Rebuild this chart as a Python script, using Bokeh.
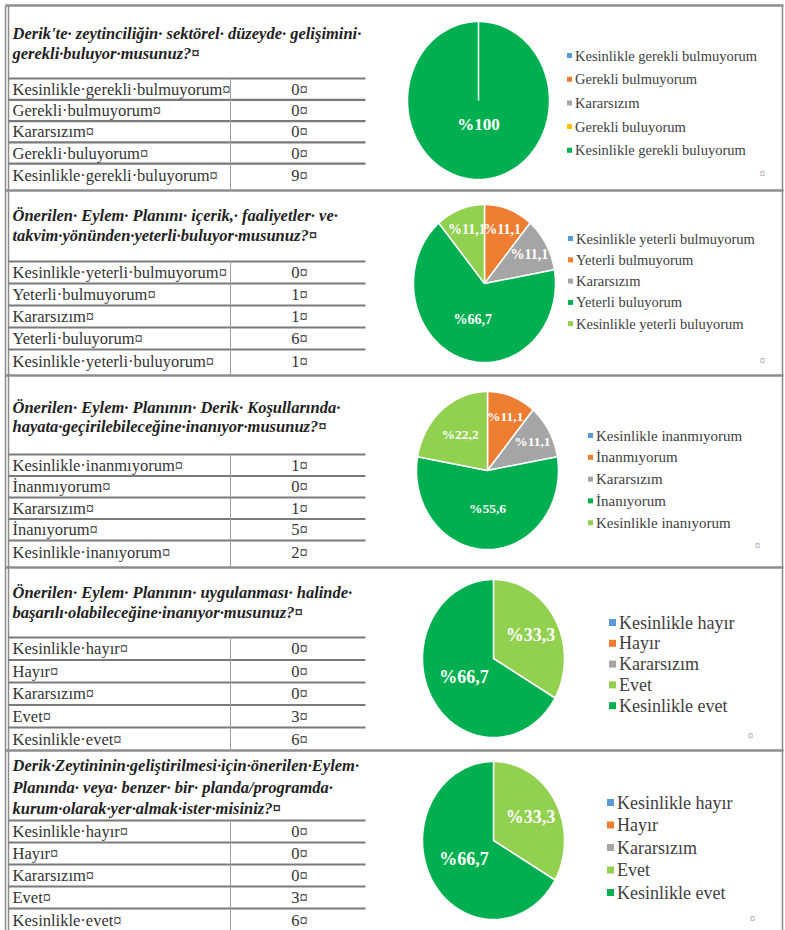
import math
from bokeh.plotting import figure
from bokeh.models import Range1d
from bokeh.core.properties import value
from bokeh.embed import file_html
from bokeh.resources import INLINE

# ---------------- colours of the Excel palette ----------------
BLUE = "#5B9BD5"
ORANGE = "#ED7D31"
GRAY = "#A5A5A5"
YELLOW = "#FFC000"
DGREEN = "#00B050"
LGREEN = "#92D050"

# ---------------- data ----------------
q1_title = ["Derik'te· zeytinciliğin· sektörel· düzeyde· gelişimini·",
            "gerekli·buluyor·musunuz?¤"]
q1_categories = ["Kesinlikle gerekli bulmuyorum", "Gerekli bulmuyorum", "Kararsızım",
                 "Gerekli buluyorum", "Kesinlikle gerekli buluyorum"]
q1_counts = [0, 0, 0, 0, 9]
q1_pie = [0, 0, 0, 0, 9]
q1_colors = [BLUE, ORANGE, GRAY, YELLOW, DGREEN]

q2_title = ["Önerilen· Eylem· Planını· içerik,· faaliyetler· ve·",
            "takvim·yönünden·yeterli·buluyor·musunuz?¤"]
q2_categories = ["Kesinlikle yeterli bulmuyorum", "Yeterli bulmuyorum", "Kararsızım",
                 "Yeterli buluyorum", "Kesinlikle yeterli buluyorum"]
q2_counts = [0, 1, 1, 6, 1]
q2_pie = [0, 1, 1, 6, 1]
q2_colors = [BLUE, ORANGE, GRAY, DGREEN, LGREEN]

q3_title = ["Önerilen· Eylem· Planının· Derik· Koşullarında·",
            "hayata·geçirilebileceğine·inanıyor·musunuz?¤"]
q3_categories = ["Kesinlikle inanmıyorum", "İnanmıyorum", "Kararsızım",
                 "İnanıyorum", "Kesinlikle inanıyorum"]
q3_counts = [1, 0, 1, 5, 2]
q3_pie = [0, 1, 1, 5, 2]          # as drawn in the chart
q3_colors = [BLUE, ORANGE, GRAY, DGREEN, LGREEN]

q4_title = ["Önerilen· Eylem· Planının· uygulanması· halinde·",
            "başarılı·olabileceğine·inanıyor·musunuz?¤"]
q4_categories = ["Kesinlikle hayır", "Hayır", "Kararsızım", "Evet", "Kesinlikle evet"]
q4_counts = [0, 0, 0, 3, 6]
q4_pie = [0, 0, 0, 3, 6]
q4_colors = [BLUE, ORANGE, GRAY, LGREEN, DGREEN]

q5_title = ["Derik·Zeytininin·geliştirilmesi·için·önerilen·Eylem·",
            "Planında· veya· benzer· bir· planda/programda·",
            "kurum·olarak·yer·almak·ister·misiniz?¤"]
q5_categories = ["Kesinlikle hayır", "Hayır", "Kararsızım", "Evet", "Kesinlikle evet"]
q5_counts = [0, 0, 0, 3, 6]
q5_pie = [0, 0, 0, 3, 6]
q5_colors = [BLUE, ORANGE, GRAY, LGREEN, DGREEN]

questions = [
    dict(title=q1_title, cats=q1_categories, counts=q1_counts, pie=q1_pie, colors=q1_colors),
    dict(title=q2_title, cats=q2_categories, counts=q2_counts, pie=q2_pie, colors=q2_colors),
    dict(title=q3_title, cats=q3_categories, counts=q3_counts, pie=q3_pie, colors=q3_colors),
    dict(title=q4_title, cats=q4_categories, counts=q4_counts, pie=q4_pie, colors=q4_colors),
    dict(title=q5_title, cats=q5_categories, counts=q5_counts, pie=q5_pie, colors=q5_colors),
]

# ---------------- layout (pixel positions from the top-left) ----------------
W, H = 785, 930
def X(rx):
    return rx
def Y(ry):
    return H - ry

layout = [
    dict(top=5, q_y=33, q_dy=20, tbl=78, rh=21.3, bottom=190, pc=(478, 100),
         lg=(569, 55, 23.7, 14.5, 5), lab=17, mark=(762, 173)),
    dict(top=190, q_y=215, q_dy=20, tbl=261, rh=22, bottom=375, pc=(484, 283),
         lg=(570, 238, 21.3, 14.5, 5), lab=14, mark=(762, 360)),
    dict(top=375, q_y=407, q_dy=19, tbl=454, rh=21.5, bottom=567, pc=(487, 470),
         lg=(590, 435, 21.8, 15, 5), lab=13.5, mark=(757, 545)),
    dict(top=567, q_y=592, q_dy=20, tbl=637, rh=22.5, bottom=750, pc=(493, 658),
         lg=(612, 622, 20.8, 18, 7), lab=18, mark=(750, 735)),
    dict(top=750, q_y=765, q_dy=21.5, tbl=820, rh=22, bottom=930, pc=(493, 840),
         lg=(610, 802, 22.5, 18, 7), lab=18, mark=(752, 918)),
]
RX, RY = 71, 79

SERIF = value("'Liberation Serif', 'Times New Roman', Times, serif")

p = figure(width=W, height=H, x_range=Range1d(0, W), y_range=Range1d(0, H),
           x_axis_type=None, y_axis_type=None, output_backend="svg",
           toolbar_location=None, min_border=0)
p.grid.visible = False
p.outline_line_color = None
p.background_fill_color = "white"
p.border_fill_color = "white"

# ---- frame lines ----
sep_xs, sep_ys = [], []
for L in layout:
    sep_xs.append([X(5), X(783)]); sep_ys.append([Y(L["top"]), Y(L["top"])])
p.multi_line(sep_xs, sep_ys, line_color="#8c8c8c", line_width=2.5)
p.multi_line([[X(5), X(5)], [X(8), X(8)], [X(782), X(782)]],
             [[Y(5), 0], [Y(5), 0], [Y(5), 0]], line_color="#8c8c8c", line_width=1.5)

for q, L in zip(questions, layout):
    # question text
    qy = [Y(L["q_y"] + i * L["q_dy"]) for i in range(len(q["title"]))]
    p.text(x=[X(12)] * len(qy), y=qy, text=q["title"], text_font=SERIF,
           text_font_style="bold italic", text_font_size="16.5px", text_color="#222222",
           text_baseline="middle")

    # table lines
    tl_xs, tl_ys = [], []
    lines_y = [L["tbl"] + k * L["rh"] for k in range(5)]
    for ly in lines_y:
        tl_xs.append([X(8), X(365)]); tl_ys.append([Y(ly), Y(ly)])
    p.multi_line(tl_xs, tl_ys, line_color="#7a7a7a", line_width=2.2)
    p.line([X(230), X(230)], [Y(L["tbl"]), Y(L["bottom"])], line_color="#a0a0a0", line_width=1)

    # table rows
    centers = [L["tbl"] + (k + 0.5) * L["rh"] for k in range(4)]
    centers.append(lines_y[-1] + L["rh"] / 2 + 1)
    row_labels = [c.replace(" ", "·") + "¤" for c in q["cats"]]
    p.text(x=[X(12)] * 5, y=[Y(c) for c in centers], text=row_labels, text_font=SERIF,
           text_font_size="16.5px", text_color="#333333", text_baseline="middle")
    p.text(x=[X(299)] * 5, y=[Y(c) for c in centers], text=[f"{v}¤" for v in q["counts"]],
           text_font=SERIF, text_font_size="16.5px", text_color="#333333",
           text_baseline="middle", text_align="center")

    # pie (clockwise from 12 o'clock)
    cx, cy = X(L["pc"][0]), Y(L["pc"][1])
    total = sum(q["pie"])
    xs, ys, lx, ly, lt = [], [], [], [], []
    cum = 0
    for v in q["pie"]:
        a0 = cum / total * 2 * math.pi
        a1 = (cum + v) / total * 2 * math.pi
        n = max(2, int(math.degrees(a1 - a0) / 2))
        px = [cx] + [cx + RX * math.sin(a0 + (a1 - a0) * i / n) for i in range(n + 1)] + [cx]
        py = [cy] + [cy + RY * math.cos(a0 + (a1 - a0) * i / n) for i in range(n + 1)] + [cy]
        xs.append(px); ys.append(py)
        if v > 0:
            pct = v / total * 100
            mid = (a0 + a1) / 2
            frac = 0.3 if pct > 99.9 else (0.48 if pct > 40 else (0.6 if pct > 15 else 0.73))
            lx.append(cx + frac * RX * math.sin(mid))
            ly.append(cy + frac * RY * math.cos(mid))
            lt.append("%100" if pct > 99.9 else "%" + f"{pct:.1f}".replace(".", ","))
        cum += v
    p.patches(xs, ys, fill_color=q["colors"], line_color="white", line_width=1.5)
    p.text(x=lx, y=ly, text=lt, text_font=SERIF, text_font_style="bold",
           text_font_size=f"{L['lab']}px", text_color="white",
           text_align="center", text_baseline="middle")

    # legend
    mx, y0, dy, fs, ms = L["lg"]
    leg_y = [Y(y0 + i * dy) for i in range(5)]
    p.scatter(x=[X(mx)] * 5, y=leg_y, marker="square", size=ms,
              fill_color=q["colors"], line_color=None)
    p.text(x=[X(mx) + ms / 2 + 3] * 5, y=leg_y, text=q["cats"], text_font=SERIF,
           text_font_size=f"{fs}px", text_color="#404040", text_baseline="middle")
    p.text(x=[X(L["mark"][0])], y=[Y(L["mark"][1])], text=["¤"], text_font=SERIF,
           text_font_size="10px", text_color="#777777", text_baseline="middle",
           text_align="center")

open("out.html", "w").write(file_html(p, INLINE))
